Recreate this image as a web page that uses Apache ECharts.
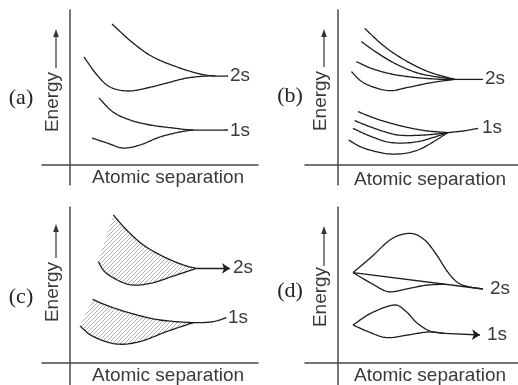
<!DOCTYPE html>
<html><head><meta charset="utf-8">
<script src="https://cdn.jsdelivr.net/npm/echarts@6/dist/echarts.min.js"></script>
<style>html,body{margin:0;padding:0;background:#fff}#c{width:518px;height:385px}</style>
</head><body><div id="c"></div>
<script>
// ---------- Panel (a) ----------
const a2sUpper = [[2.1,7.05],[3.15,6.1],[4.15,5.4],[5.35,4.9],[6.5,4.55],[7.25,4.45],[7.9,4.45]];
const a2sLower = [[0.7,5.4],[1.35,4.5],[2.0,3.9],[2.9,3.7],[3.85,3.85],[4.85,4.1],[5.85,4.35],[6.85,4.45],[7.25,4.45]];
const a1sUpper = [[1.45,3.35],[2.15,2.65],[3.0,2.25],[4.0,2.0],[5.15,1.85],[6.15,1.75],[7.9,1.75]];
const a1sLower = [[1.1,1.35],[1.85,1.1],[2.65,0.85],[3.5,1.0],[4.5,1.4],[5.5,1.65],[6.15,1.75]];
// ---------- Panel (b) ----------
const b2sCurve1 = [[1.33,6.83],[2.33,5.92],[3.33,5.25],[4.5,4.67],[5.83,4.28]];
const b2sCurve2 = [[1.17,6.17],[2.0,5.58],[3.0,5.0],[4.17,4.55],[5.83,4.28]];
const b2sCurve3 = [[0.92,5.17],[1.67,4.83],[2.67,4.55],[3.83,4.38],[5.17,4.28],[5.83,4.28]];
const b2sCurve4 = [[0.67,4.67],[1.33,4.08],[2.5,3.72],[3.5,3.88],[4.67,4.12],[5.83,4.28]];
const b2sTail = [[5.83,4.28],[7.25,4.28]];
const b1sCurve1 = [[1.0,2.67],[2.0,2.28],[3.17,1.95],[4.33,1.72],[5.5,1.62]];
const b1sCurve2 = [[0.83,2.22],[1.83,1.83],[3.0,1.5],[4.33,1.5],[5.5,1.62]];
const b1sCurve3 = [[0.75,1.83],[1.67,1.42],[2.67,1.12],[4.0,1.17],[5.5,1.62]];
const b1sCurve4 = [[0.53,1.25],[1.33,0.83],[2.67,0.55],[4.0,0.75],[5.5,1.62]];
const b1sTail = [[5.5,1.62],[6.25,1.7],[7.0,1.83]];
// ---------- Panel (c) ----------
const c2sUpper = [[2.17,7.4],[2.83,6.65],[3.67,5.9],[4.67,5.32],[5.67,4.9],[6.33,4.73]];
const c2sLower = [[1.42,5.07],[1.83,4.48],[2.92,3.93],[4.0,3.98],[5.17,4.35],[6.33,4.73]];
const c2sArrow = [[6.33,4.73],[8.0,4.73]];
const c1sUpper = [[1.13,3.18],[2.0,2.82],[3.17,2.45],[4.5,2.15],[6.17,2.02]];
const c1sTail = [[6.17,2.02],[7.17,2.07],[7.83,2.27]];
const c1sLower = [[0.5,1.85],[1.17,1.32],[2.33,0.95],[3.5,1.07],[4.83,1.57],[6.17,2.02]];
// ---------- Panel (d) ----------
const d2sUpper = [[0.75,4.52],[1.67,5.3],[2.67,6.2],[3.6,6.48],[4.3,6.18],[4.9,5.45],[5.45,4.6],[5.95,4.05],[6.5,3.82],[7.25,3.7]];
const d2sMiddle = [[0.75,4.52],[7.25,3.7]];
const d2sLower = [[0.75,4.52],[1.67,3.98],[2.5,3.57],[3.33,3.68],[4.33,3.88],[5.33,3.94]];
const d1sUpper = [[0.75,1.9],[1.67,2.5],[2.8,2.9],[3.4,2.58],[3.95,2.0],[4.6,1.6],[5.33,1.48]];
const d1sLower = [[0.75,1.9],[1.5,1.57],[2.42,1.27],[3.5,1.4],[4.5,1.55],[5.33,1.48]];
const d1sArrow = [[5.33,1.48],[7.1,1.4]];
// ---------- Text ----------
const panelLetters = ['(a)','(b)','(c)','(d)'];
const levelLabels = ['2s','1s'];
const xTitle = 'Atomic separation';
const yTitle = 'Energy';

const INK = '#1e1e1e';
const AXIS = '#4a4a4a';
const TXT = '#3a3a3a';

// hatch pattern
const hatch = document.createElement('canvas');
hatch.width = 4; hatch.height = 4;
(function(){
  const g = hatch.getContext('2d');
  g.strokeStyle = '#9a9a9a'; g.lineWidth = 0.8;
  g.beginPath();
  g.moveTo(0,4); g.lineTo(4,0);
  g.moveTo(-1,1); g.lineTo(1,-1);
  g.moveTo(3,5); g.lineTo(5,3);
  g.stroke();
})();

const grids = [
  {left:42, top:10, width:216, height:175},
  {left:305, top:10, width:213, height:175},
  {left:42, top:207, width:216, height:178},
  {left:305, top:207, width:213, height:178}
];
const xRanges = [[-1.4,9.4],[-1.65,9.0],[-1.4,9.4],[-1.65,9.0]];
const yRanges = [[-1.0,7.75],[-1.0,7.75],[-1.1,7.8],[-1.1,7.8]];

const axisLine = {show:true, onZero:true, lineStyle:{color:AXIS, width:1.5}};
const xAxis = xRanges.map((r,i)=>({type:'value', gridIndex:i, min:r[0], max:r[1],
  axisLine, axisTick:{show:false}, axisLabel:{show:false}, splitLine:{show:false}}));
const yAxis = yRanges.map((r,i)=>({type:'value', gridIndex:i, min:r[0], max:r[1],
  axisLine, axisTick:{show:false}, axisLabel:{show:false}, splitLine:{show:false}}));

// Catmull-Rom spline sampling (render-time only)
function spline(pts, n){
  if (pts.length < 3) return pts.slice();
  const out = [];
  for (let i=0;i<pts.length-1;i++){
    const p0 = pts[i-1]||pts[i], p1 = pts[i], p2 = pts[i+1], p3 = pts[i+2]||pts[i+1];
    for (let k=0;k<n;k++){
      const t = k/n, t2=t*t, t3=t2*t;
      const f = j => 0.5*((2*p1[j]) + (-p0[j]+p2[j])*t + (2*p0[j]-5*p1[j]+4*p2[j]-p3[j])*t2 + (-p0[j]+3*p1[j]-3*p2[j]+p3[j])*t3);
      out.push([f(0),f(1)]);
    }
  }
  out.push(pts[pts.length-1]);
  return out;
}
function curve(data, idx){
  return {type:'custom', xAxisIndex:idx, yAxisIndex:idx, data, silent:true, clip:false, z:3,
    renderItem:function(params, api){
      if (params.dataIndex !== 0) return {type:'group', children:[]};
      const px = spline(data, 16).map(p=>api.coord(p));
      return {type:'polyline', shape:{points:px}, style:{stroke:INK, lineWidth:1.3, fill:null, lineJoin:'round'}};
    }};
}
function arrow(coords, idx){
  return {type:'lines', coordinateSystem:'cartesian2d', xAxisIndex:idx, yAxisIndex:idx,
    symbol:['none','arrow'], symbolSize:8, silent:true,
    lineStyle:{color:INK, width:1.3, opacity:1, curveness:0},
    data:[{coords}], z:3};
}
function hatchedBand(upper, tail, lower, idx){
  return {type:'custom', xAxisIndex:idx, yAxisIndex:idx, data:upper, silent:true, clip:false, z:2,
    renderItem:function(params, api){
      if (params.dataIndex !== 0) return {type:'group', children:[]};
      const full = spline(tail ? upper.concat(tail.slice(1)) : upper, 16);
      const endX = upper[upper.length-1][0];
      const top = full.filter(p=>p[0] <= endX + 1e-9);
      const bot = spline(lower, 16);
      const topPx = top.map(p=>api.coord(p));
      const botPx = bot.map(p=>api.coord(p));
      const fullPx = full.map(p=>api.coord(p));
      const poly = topPx.concat(botPx.slice().reverse());
      return {type:'group', children:[
        {type:'polygon', shape:{points:poly}, style:{fill:{image:hatch, repeat:'repeat'}, stroke:null}},
        {type:'polyline', shape:{points:fullPx}, style:{stroke:INK, lineWidth:1.3, fill:null, lineJoin:'round'}},
        {type:'polyline', shape:{points:botPx}, style:{stroke:INK, lineWidth:1.3, fill:null, lineJoin:'round'}}
      ]};
    }};
}

const series = [
  curve(a2sUpper,0), curve(a2sLower,0), curve(a1sUpper,0), curve(a1sLower,0),
  curve(b2sCurve1,1), curve(b2sCurve2,1), curve(b2sCurve3,1), curve(b2sCurve4,1), curve(b2sTail,1),
  curve(b1sCurve1,1), curve(b1sCurve2,1), curve(b1sCurve3,1), curve(b1sCurve4,1), curve(b1sTail,1),
  hatchedBand(c2sUpper, null, c2sLower, 2), arrow(c2sArrow, 2),
  hatchedBand(c1sUpper, c1sTail, c1sLower, 2),
  curve(d2sUpper,3), curve(d2sMiddle,3), curve(d2sLower,3),
  curve(d1sUpper,3), curve(d1sLower,3), arrow(d1sArrow,3)
];

const SANS = '"Liberation Sans", Arial, sans-serif';
const SERIF = '"Liberation Serif", "Times New Roman", serif';
function txt(text, x, y, opt){
  opt = opt || {};
  return {type:'text', x, y, rotation: opt.rot || 0, silent:true,
    style:{text, fill: opt.fill || TXT, font: opt.font || ('19px ' + SANS),
      align: opt.align || 'left', verticalAlign:'middle'}};
}
function energyArrow(x, yTop, yBot){
  return [
    {type:'line', silent:true, shape:{x1:x, y1:yBot, x2:x, y2:yTop+6}, style:{stroke:'#333', lineWidth:1.2}},
    {type:'polygon', silent:true, shape:{points:[[x,yTop],[x-2.8,yTop+8],[x+2.8,yTop+8]]}, style:{fill:'#333'}}
  ];
}
const graphic = [
  txt(panelLetters[0], 21, 98, {font:'22px '+SERIF, align:'center', fill:'#222'}),
  txt(panelLetters[1], 290, 96, {font:'22px '+SERIF, align:'center', fill:'#222'}),
  txt(panelLetters[2], 21, 297, {font:'22px '+SERIF, align:'center', fill:'#222'}),
  txt(panelLetters[3], 290, 291, {font:'22px '+SERIF, align:'center', fill:'#222'}),
  txt(yTitle, 53, 102, {rot:Math.PI/2, align:'center'}),
  txt(yTitle, 321, 101, {rot:Math.PI/2, align:'center'}),
  txt(yTitle, 53, 292, {rot:Math.PI/2, align:'center'}),
  txt(yTitle, 321, 297, {rot:Math.PI/2, align:'center'}),
  ...energyArrow(56, 29, 68),
  ...energyArrow(324, 29, 67),
  ...energyArrow(56, 224, 258),
  ...energyArrow(324, 226, 266),
  txt(xTitle, 168, 178, {align:'center'}),
  txt(xTitle, 430, 180, {align:'center'}),
  txt(xTitle, 168, 376, {align:'center'}),
  txt(xTitle, 430, 376, {align:'center'}),
  txt(levelLabels[0], 230, 76), txt(levelLabels[1], 230, 131),
  txt(levelLabels[0], 485, 79), txt(levelLabels[1], 482, 128),
  txt(levelLabels[0], 233, 268), txt(levelLabels[1], 228, 318),
  txt(levelLabels[0], 490, 289), txt(levelLabels[1], 487, 335)
];

const chart = echarts.init(document.getElementById('c'), null, {renderer:'canvas'});
chart.setOption({animation:false, backgroundColor:'#fff', grid:grids, xAxis, yAxis, series, graphic});
</script></body></html>
